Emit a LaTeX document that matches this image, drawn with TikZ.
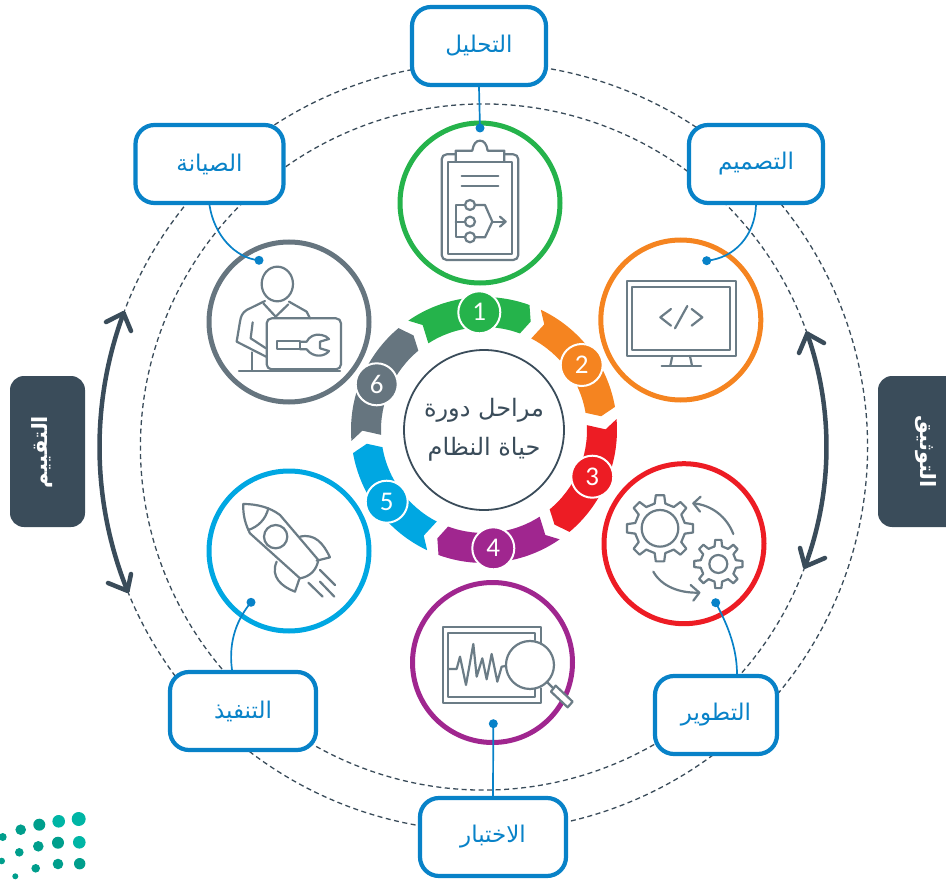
\documentclass[tikz,border=0pt]{standalone}
\usepackage{fontspec}
\newfontfamily\arabicfont[Script=Arabic]{DejaVu Sans}
\newfontfamily\numfont{Carlito}
\TeXXeTstate=1
\definecolor{navy}{HTML}{3A4C5A}
\definecolor{linkblue}{HTML}{0882C8}
\definecolor{icongray}{HTML}{6B7C86}
\definecolor{cgreen}{HTML}{25B34B}
\definecolor{corange}{HTML}{F58420}
\definecolor{cred}{HTML}{ED1C24}
\definecolor{cpurple}{HTML}{A0268F}
\definecolor{cblue}{HTML}{00A7E2}
\definecolor{cgray}{HTML}{66757F}
\definecolor{tealA}{HTML}{00B5A5}
\definecolor{tealB}{HTML}{009E8C}
\tikzset{
  ringline/.style={draw=navy,line width=1.3pt,dash pattern=on 5pt off 3.5pt},
  bigarrow/.style={draw=navy,line width=4.5pt,line cap=round,line join=round},
  labelbox/.style={draw=linkblue,line width=4.2pt,fill=white,rounded corners=19pt,inner sep=0pt,
    text=linkblue,font=\arabicfont\fontsize{23}{26}\selectfont},
  iconring/.style={circle,draw=#1,line width=5pt,fill=white,minimum size=160pt,inner sep=0pt},
  numdisc/.style={circle,fill=#1,draw=white,line width=2pt,minimum size=42pt,inner sep=0pt,
    text=white,font=\numfont\fontsize{27}{30}\selectfont},
  linkdot/.style={circle,fill=linkblue,minimum size=9pt,inner sep=0pt},
  linkline/.style={draw=linkblue,line width=1.7pt},
  icon/.style={draw=icongray,line width=2.2pt,line cap=round,line join=round},
  logodot/.style={circle,fill=#1,inner sep=0pt}
}
\newcommand{\gearshape}[3]{% outer, root, teeth
  \foreach \gi in {1,...,#3}{
    \pgfmathsetmacro{\ga}{90+360/#3*\gi}
    \pgfmathsetmacro{\gw}{360/#3}
    \draw[icon] (\ga-0.27*\gw:#2) -- (\ga-0.16*\gw:#1) -- (\ga+0.16*\gw:#1) -- (\ga+0.27*\gw:#2)
      -- (\ga+0.73*\gw:#2);
  }
}
\begin{document}
\begin{tikzpicture}[x=1pt,y=-1pt]
\useasboundingbox (0,0) rectangle (946,880);

% dashed rings and side arrows
\begin{scope}[shift={(483.5,447)},y=1pt]
  \draw[ringline] (202:384) arc[start angle=202,end angle=519.6,radius=384];
  \draw[ringline] (-20.4:343) arc[start angle=-20.4,end angle=-340.7,radius=343];
  \draw[bigarrow] (159.6:384) coordinate (leftTop) arc[start angle=159.6,end angle=202,radius=384] coordinate (leftBot);
  \draw[bigarrow] (19.3:343) coordinate (rightTop) arc[start angle=19.3,end angle=-20.4,radius=343] coordinate (rightBot);
\end{scope}
\coordinate (lta) at (106,322); \coordinate (ltb) at (131,331);
\coordinate (lba) at (108,583); \coordinate (lbb) at (131,574);
\coordinate (rta) at (824,343); \coordinate (rtb) at (799,353);
\coordinate (rba) at (825,558); \coordinate (rbb) at (800,548);
\draw[bigarrow] (lta) -- (leftTop) -- (ltb);
\draw[bigarrow] (lba) -- (leftBot) -- (lbb);
\draw[bigarrow] (rta) -- (rightTop) -- (rtb);
\draw[bigarrow] (rba) -- (rightBot) -- (rbb);

% side panels
\fill[navy,rounded corners=14pt] (10,376) rectangle (85,527);
\fill[navy,rounded corners=14pt] (946,527) -- (878,527) -- (878,376) -- (946,376);
\node[rotate=90,text=white,font=\arabicfont\bfseries\fontsize{21}{24}\selectfont] (evalText) at (42,452) {\beginR التقييم\endR};
\node[rotate=-90,text=white,font=\arabicfont\bfseries\fontsize{21}{24}\selectfont] (docText) at (926,452) {\beginR التوثيق\endR};

% icon rings
\node[iconring=cgreen] (ringA) at (480,203) {};
\node[iconring=corange] (ringB) at (680.8,320) {};
\node[iconring=cred] (ringC) at (684,543.7) {};
\node[iconring=cpurple] (ringD) at (492.5,662.5) {};
\node[iconring=cblue] (ringE) at (289,551) {};
\node[iconring=cgray] (ringF) at (289,322) {};

% wheel
\foreach \k/\c in {0/cgreen,1/corange,2/cred,3/cpurple,4/cblue,5/cgray}{
  \begin{scope}[shift={(484,430)},y=1pt,rotate=-60*\k]
    \fill[\c] (124.7:133) arc[start angle=124.7,end angle=70,radius=133] -- (66.7:118) -- (69.6:103)
      arc[start angle=69.6,end angle=122.7,radius=103] -- (120.3:121.6) -- cycle;
  \end{scope}
}
\node[numdisc=cgreen] (n1) at (479.3,312.3) {1};
\node[numdisc=corange] (n2) at (581.7,365) {2};
\node[numdisc=cred] (n3) at (592.3,476.7) {3};
\node[numdisc=cpurple] (n4) at (493.3,548.3) {4};
\node[numdisc=cblue] (n5) at (386.7,501.7) {5};
\node[numdisc=cgray] (n6) at (376.7,384.3) {6};
\node[circle,draw=navy,line width=1.8pt,fill=white,minimum size=160pt,inner sep=0pt,
  text=navy,align=center,font=\arabicfont\fontsize{24}{39}\selectfont] (hub) at (484,430)
  {\beginR مراحل دورة\endR\\\beginR حياة النظام\endR};

% clipboard
\begin{scope}[shift={(390,120)},x=0.3333pt,y=-0.3333pt]
  \draw[icon,rounded corners=5pt] (197,103) -- (155,103) -- (155,420) -- (385,420) -- (385,103) -- (343,103);
  \draw[icon] (175,125) rectangle (365,403);
  \draw[icon] (197,125) -- (197,92) -- (247,92) .. controls (250,72) and (258,62) .. (270,62)
    .. controls (282,62) and (290,72) .. (293,92) -- (343,92) -- (343,125);
  \draw[icon] (215,167) -- (325,167);
  \draw[icon] (215,197) -- (325,197);
  \draw[icon] (240,255) circle[radius=15];
  \draw[icon] (240,305) circle[radius=15];
  \draw[icon] (240,352) circle[radius=15];
  \draw[icon] (225,255) -- (197,255) -- (197,352) -- (225,352);
  \draw[icon] (197,305) -- (225,305);
  \draw[icon] (255,255) -- (285,255) -- (307,305) -- (285,352) -- (255,352);
  \draw[icon] (307,305) -- (345,305);
  \draw[icon] (330,290) -- (347,305) -- (330,320);
\end{scope}

% monitor
\begin{scope}[shift={(595,230)},x=0.3333pt,y=-0.3333pt]
  \draw[icon] (95,153) rectangle (422,378);
  \draw[icon] (110,170) rectangle (405,360);
  \draw[icon] (232,378) -- (226,407);
  \draw[icon] (285,378) -- (291,407);
  \draw[icon] (200,407) -- (318,407);
  \draw[icon] (228,237) -- (196,262) -- (228,287);
  \draw[icon] (277,228) -- (240,295);
  \draw[icon] (290,237) -- (322,262) -- (290,287);
\end{scope}

% gears
\begin{scope}[shift={(600,460)},x=0.3333pt,y=-0.3333pt]
  \begin{scope}[shift={(180,205)}]
    \gearshape{100}{76}{8}
    \draw[icon] (0,0) circle[radius=55];
  \end{scope}
  \begin{scope}[shift={(355,312)}]
    \gearshape{73}{54}{8}
    \draw[icon] (0,0) circle[radius=27];
  \end{scope}
  \draw[icon] (400,222) .. controls (380,170) and (335,135) .. (280,130);
  \draw[icon] (302,110) -- (280,130) -- (300,155);
  \draw[icon] (160,335) .. controls (185,380) and (240,400) .. (298,398);
  \draw[icon] (272,375) -- (298,398) -- (280,422);
\end{scope}

% analysis
\begin{scope}[shift={(405,580)},x=0.3333pt,y=-0.3333pt]
  \draw[icon] (408,190) -- (408,142) -- (113,142) -- (113,368) -- (408,368) -- (408,325);
  \draw[icon] (390,180) -- (390,158) -- (130,158) -- (130,352) -- (390,352) -- (390,325);
  \draw[icon] (132,267) -- (155,267) -- (165,230) -- (183,315) -- (205,192) -- (215,290) -- (232,235)
    -- (245,298) -- (260,222) -- (277,305) -- (290,260) -- (303,258);
  \draw[icon,fill=white] (375,255) circle[radius=72];
  \draw[icon] (425,305) -- (445,325);
  \draw[icon,fill=white] (452,317) -- (503,365) -- (488,382) -- (438,335) -- cycle;
\end{scope}

% rocket
\begin{scope}[shift={(205,470)},x=0.3333pt,y=-0.3333pt]
  \draw[icon] (285,325) -- (135,190) .. controls (122,165) and (113,135) .. (115,102)
    .. controls (155,102) and (195,112) .. (225,135) -- (340,270);
  \draw[icon] (340,270) .. controls (335,300) and (315,320) .. (285,325);
  \draw[icon] (190,115) .. controls (182,148) and (160,170) .. (130,180);
  \draw[icon] (212,200) circle[radius=35];
  \draw[icon] (285,200) .. controls (330,190) and (355,220) .. (375,262) -- (335,272);
  \draw[icon] (215,275) .. controls (195,320) and (230,350) .. (270,365) -- (283,327);
  \draw[icon] (345,300) -- (390,345);
  \draw[icon] (345,335) -- (388,380);
  \draw[icon] (310,338) -- (353,380);
\end{scope}

% technician
\begin{scope}[shift={(205,235)},x=0.3333pt,y=-0.3333pt]
  \draw[icon] (217,147) ellipse[x radius=47,y radius=52];
  \draw[icon] (180,198) -- (125,225) .. controls (112,233) and (107,245) .. (105,260) -- (95,320) -- (183,365);
  \draw[icon] (143,262) -- (137,310) -- (183,340);
  \draw[icon] (140,352) -- (140,405);
  \draw[icon] (252,200) -- (305,230) -- (315,250);
  \draw[icon] (175,205) -- (212,245) -- (250,208);
  \draw[icon,rounded corners=5pt] (185,403) -- (185,250) -- (408,250) -- (408,403) -- cycle;
  \draw[icon] (102,407) -- (405,407);
  \draw[icon] (217,317) rectangle (285,343);
  \draw[icon] (285,320) -- (305,320) .. controls (312,305) and (330,295) .. (350,300)
    .. controls (360,302) and (367,306) .. (372,312) -- (345,320) -- (345,340) -- (372,348)
    .. controls (360,365) and (325,370) .. (305,343) -- (285,343);
\end{scope}

% labelled boxes
\node[labelbox,minimum width=134pt,minimum height=78pt] (bAnalysis) at (479,46) {\beginR التحليل\endR};
\node[labelbox,minimum width=134pt,minimum height=78pt] (bDesign) at (756,164) {\beginR التصميم\endR};
\node[labelbox,minimum width=122pt,minimum height=78pt] (bDevelop) at (716,715) {\beginR التطوير\endR};
\node[labelbox,minimum width=146pt,minimum height=78pt] (bTest) at (493,837) {\beginR الاختبار\endR};
\node[labelbox,minimum width=146pt,minimum height=78pt] (bDeploy) at (243,711) {\beginR التنفيذ\endR};
\node[labelbox,minimum width=148pt,minimum height=78pt] (bMaintain) at (209.5,164) {\beginR الصيانة\endR};

% connectors
\node[linkdot] (dAnalysis) at (480,128) {};
\node[linkdot] (dDesign) at (706.7,260.7) {};
\node[linkdot] (dDevelop) at (715.7,602.7) {};
\node[linkdot] (dTest) at (493.3,723.7) {};
\node[linkdot] (dDeploy) at (251,602.3) {};
\node[linkdot] (dMaintain) at (259,260.3) {};
\draw[linkline] (bAnalysis.south) -- (dAnalysis.center);
\draw[linkline] (bDesign.south) .. controls (755,235) and (735,258) .. (dDesign.center);
\draw[linkline] ([xshift=21pt]bDevelop.north) .. controls (737,645) and (725,620) .. (dDevelop.center);
\draw[linkline] (bTest.north) -- (dTest.center);
\draw[linkline] ([xshift=-11pt]bDeploy.north) .. controls (228,640) and (238,618) .. (dDeploy.center);
\draw[linkline] (bMaintain.south) .. controls (214,235) and (235,258) .. (dMaintain.center);

% logo
\foreach \px/\py/\r/\c in {2.7/837/4/tealB,20.7/829.7/5.3/tealB,39.3/824.7/6/tealB,58.7/821.3/6.3/tealA,78.7/819/7/tealA,
  19.3/852.3/4.3/tealB,38.3/846.3/5.3/tealB,58/842.7/6/tealB,79.3/842.3/6.3/tealA,
  1.7/861/3.3/tealB,35.7/868.3/4.3/tealB,58/864/5.3/tealB,79.7/863.7/5.7/tealB,15.3/876.3/3/tealB}{
  \fill[\c] (\px,\py) circle[radius=\r];
}
\end{tikzpicture}
\end{document}
